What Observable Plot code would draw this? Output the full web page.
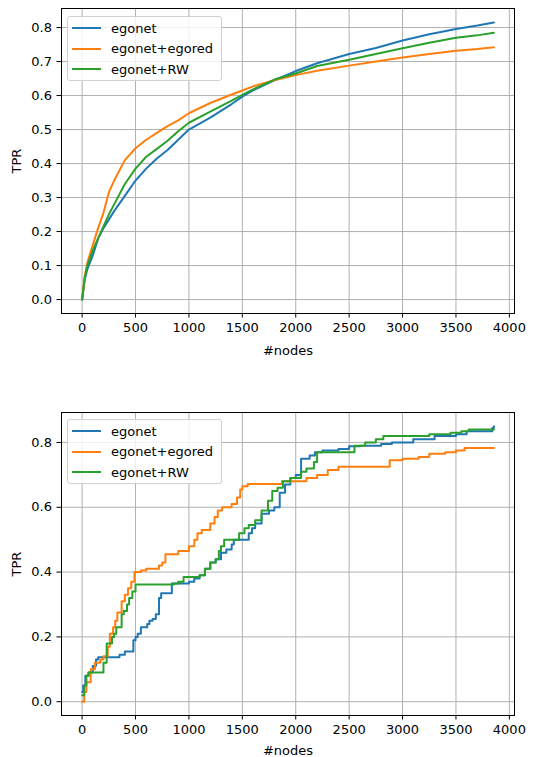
<!DOCTYPE html>
<html><head><meta charset="utf-8">
<script src="https://cdn.jsdelivr.net/npm/d3@7"></script>
<script src="https://cdn.jsdelivr.net/npm/@observablehq/plot@0.6"></script>
<style>
body{margin:0;background:#fff;font-family:"DejaVu Sans",sans-serif;}
#wrap{position:relative;width:540px;height:757px;overflow:hidden;}
.chart{position:absolute;left:0;}
.legend{position:absolute;left:67px;width:155px;height:65px;box-sizing:border-box;border:1px solid #d0d0d0;border-radius:3px;background:rgba(255,255,255,0.8);font-size:13px;color:#000;}
.legend .row{position:absolute;left:0;height:20px;display:flex;align-items:center;white-space:nowrap;}
.legend .swatch{display:inline-block;width:29px;height:2px;margin-left:4px;}
.legend .lab{margin-left:10px;}
</style>
</head><body>
<div id="wrap"></div>
<script>
// ---------- data ----------
const seriesNames = ["egonet", "egonet+egored", "egonet+RW"];
const seriesColors = ["#1f77b4", "#ff7f0e", "#2ca02c"];
const xTicks = [0, 500, 1000, 1500, 2000, 2500, 3000, 3500, 4000];
const topYTicks = [0, 0.1, 0.2, 0.3, 0.4, 0.5, 0.6, 0.7, 0.8];
const botYTicks = [0, 0.2, 0.4, 0.6, 0.8];

// top panel (smooth curves)
const topNodes   = [0, 25, 50, 100, 150, 200, 250, 300, 400, 500, 600, 700, 800, 900, 1000, 1200, 1400, 1500, 1600, 1800, 2000, 2200, 2500, 2750, 3000, 3250, 3500, 3700, 3855];
const topEgonet  = [0, 0.06, 0.09, 0.13, 0.18, 0.21, 0.235, 0.26, 0.305, 0.35, 0.385, 0.415, 0.44, 0.47, 0.50, 0.535, 0.575, 0.597, 0.615, 0.645, 0.672, 0.695, 0.722, 0.74, 0.762, 0.78, 0.796, 0.806, 0.815];
const topEgored  = [0, 0.07, 0.11, 0.16, 0.21, 0.255, 0.315, 0.35, 0.41, 0.445, 0.47, 0.49, 0.51, 0.527, 0.548, 0.578, 0.603, 0.615, 0.627, 0.645, 0.66, 0.673, 0.688, 0.70, 0.712, 0.722, 0.732, 0.737, 0.742];
const topRW      = [0, 0.065, 0.10, 0.145, 0.18, 0.215, 0.25, 0.28, 0.34, 0.385, 0.42, 0.443, 0.467, 0.495, 0.52, 0.553, 0.585, 0.602, 0.618, 0.647, 0.665, 0.687, 0.705, 0.722, 0.739, 0.755, 0.77, 0.777, 0.785];

// bottom panel (step curves)
const botEgonetX = [0, 10, 30, 60, 100, 130, 150, 350, 400, 480, 500, 520, 550, 610, 630, 660, 690, 720, 740, 770, 840, 1000, 1050, 1100, 1150, 1200, 1250, 1300, 1350, 1400, 1420, 1560, 1590, 1620, 1680, 1750, 1800, 1850, 1900, 1950, 2000, 2050, 2130, 2180, 2250, 2400, 2500, 2600, 2800, 2900, 3100, 3300, 3500, 3600, 3800, 3840, 3855];
const botEgonetY = [0.03, 0.05, 0.08, 0.09, 0.11, 0.13, 0.137, 0.145, 0.155, 0.19, 0.2, 0.21, 0.23, 0.24, 0.25, 0.255, 0.27, 0.32, 0.335, 0.335, 0.365, 0.37, 0.38, 0.39, 0.41, 0.43, 0.44, 0.46, 0.47, 0.485, 0.50, 0.52, 0.535, 0.55, 0.58, 0.59, 0.60, 0.645, 0.67, 0.69, 0.70, 0.75, 0.76, 0.77, 0.775, 0.78, 0.788, 0.79, 0.795, 0.80, 0.81, 0.82, 0.825, 0.835, 0.835, 0.845, 0.85];
const botEgoredX = [0, 20, 40, 80, 120, 170, 200, 240, 260, 290, 310, 330, 370, 400, 430, 460, 490, 550, 600, 720, 750, 780, 900, 1000, 1050, 1080, 1120, 1200, 1240, 1270, 1310, 1400, 1450, 1480, 1500, 1550, 1870, 2100, 2200, 2300, 2400, 2880, 3000, 3150, 3250, 3400, 3500, 3580, 3855];
const botEgoredY = [0.0, 0.03, 0.06, 0.10, 0.12, 0.13, 0.14, 0.17, 0.21, 0.23, 0.25, 0.275, 0.31, 0.33, 0.35, 0.37, 0.40, 0.405, 0.41, 0.42, 0.43, 0.455, 0.465, 0.48, 0.50, 0.52, 0.53, 0.55, 0.57, 0.59, 0.60, 0.61, 0.63, 0.655, 0.665, 0.672, 0.68, 0.69, 0.70, 0.715, 0.725, 0.745, 0.75, 0.755, 0.765, 0.77, 0.775, 0.783, 0.783];
const botRWX = [0, 20, 40, 60, 170, 200, 230, 280, 300, 320, 360, 370, 390, 420, 440, 470, 500, 860, 900, 950, 1050, 1100, 1150, 1200, 1250, 1280, 1300, 1330, 1450, 1470, 1520, 1560, 1620, 1680, 1740, 1780, 1830, 1880, 1950, 2050, 2100, 2170, 2200, 2500, 2550, 2650, 2750, 2820, 3200, 3250, 3450, 3550, 3620, 3855];
const botRWY = [0.02, 0.05, 0.08, 0.09, 0.09, 0.12, 0.18, 0.20, 0.21, 0.23, 0.23, 0.27, 0.28, 0.30, 0.32, 0.34, 0.362, 0.365, 0.37, 0.385, 0.385, 0.39, 0.41, 0.43, 0.44, 0.465, 0.48, 0.50, 0.50, 0.52, 0.535, 0.545, 0.56, 0.59, 0.62, 0.65, 0.66, 0.68, 0.69, 0.71, 0.72, 0.74, 0.77, 0.77, 0.79, 0.80, 0.81, 0.82, 0.82, 0.825, 0.83, 0.835, 0.84, 0.84];

// ---------- build tables ----------
function table(pairs) {
  const out = [];
  pairs.forEach(([name, xs, ys]) => xs.forEach((x, i) => out.push({series: name, x, y: ys[i]})));
  return out;
}
const topData = table([
  [seriesNames[0], topNodes, topEgonet],
  [seriesNames[1], topNodes, topEgored],
  [seriesNames[2], topNodes, topRW]
]);
const botData = table([
  [seriesNames[0], botEgonetX, botEgonetY],
  [seriesNames[1], botEgoredX, botEgoredY],
  [seriesNames[2], botRWX, botRWY]
]);

const xDomain = [-193, 4048];

function makeChart({data, curve, yDomain, yTicks, height, marginTop, marginBottom, xLabelOffset}) {
  const svg = Plot.plot({
    width: 540, height, marginLeft: 61, marginRight: 26, marginTop, marginBottom,
    style: "font-family: 'DejaVu Sans', sans-serif; font-size: 13px; color: black; background: white; overflow: visible;",
    x: {domain: xDomain},
    y: {domain: yDomain},
    color: {domain: seriesNames, range: seriesColors},
    marks: [
      Plot.gridX(xTicks, {stroke: "#b0b0b0", strokeOpacity: 1, strokeWidth: 1}),
      Plot.gridY(yTicks, {stroke: "#b0b0b0", strokeOpacity: 1, strokeWidth: 1}),
      Plot.line(data, {x: "x", y: "y", z: "series", stroke: "series", strokeWidth: 2, curve}),
      Plot.frame({stroke: "black", strokeWidth: 1}),
      Plot.axisX(xTicks, {tickSize: 4.5, tickPadding: 5, fontSize: 13, tickFormat: d3.format("d"),
        label: "#nodes", labelAnchor: "center", labelArrow: "none", labelOffset: xLabelOffset}),
      Plot.axisY(yTicks, {tickSize: 4.5, tickPadding: 5, fontSize: 13, tickFormat: d3.format(".1f"),
        label: "TPR", labelAnchor: "center", labelArrow: "none", labelOffset: 50})
    ]
  });
  // enforce matplotlib-like text font on every text node
  d3.select(svg).selectAll("g").filter(function() { return this.getAttribute("font-size"); })
    .attr("font-size", 13);
  d3.select(svg).selectAll("text")
    .attr("font-size", 13)
    .style("font-size", "13px")
    .style("font-family", "'DejaVu Sans', sans-serif");
  return svg;
}

function makeLegend(top) {
  const lg = document.createElement("div");
  lg.className = "legend";
  lg.style.top = top + "px";
  seriesNames.forEach((name, i) => {
    const row = document.createElement("div");
    row.className = "row";
    row.style.top = (1 + i * 20.5) + "px";
    const sw = document.createElement("span");
    sw.className = "swatch";
    sw.style.background = seriesColors[i];
    const lab = document.createElement("span");
    lab.className = "lab";
    lab.textContent = name;
    row.appendChild(sw); row.appendChild(lab);
    lg.appendChild(row);
  });
  return lg;
}

const wrap = document.getElementById("wrap");
const c1 = makeChart({data: topData, curve: "linear", yDomain: [-0.041, 0.856], yTicks: topYTicks,
  height: 370, marginTop: 8, marginBottom: 57, xLabelOffset: 41});
c1.classList.add("chart"); c1.style.top = "0px"; c1.style.position = "absolute";
const c2 = makeChart({data: botData, curve: "step-after", yDomain: [-0.0425, 0.8925], yTicks: botYTicks,
  height: 357, marginTop: 12, marginBottom: 42, xLabelOffset: 39});
c2.classList.add("chart"); c2.style.top = "400px"; c2.style.position = "absolute";
wrap.appendChild(c1);
wrap.appendChild(c2);
wrap.appendChild(makeLegend(16));
wrap.appendChild(makeLegend(419));
</script>
</body></html>
